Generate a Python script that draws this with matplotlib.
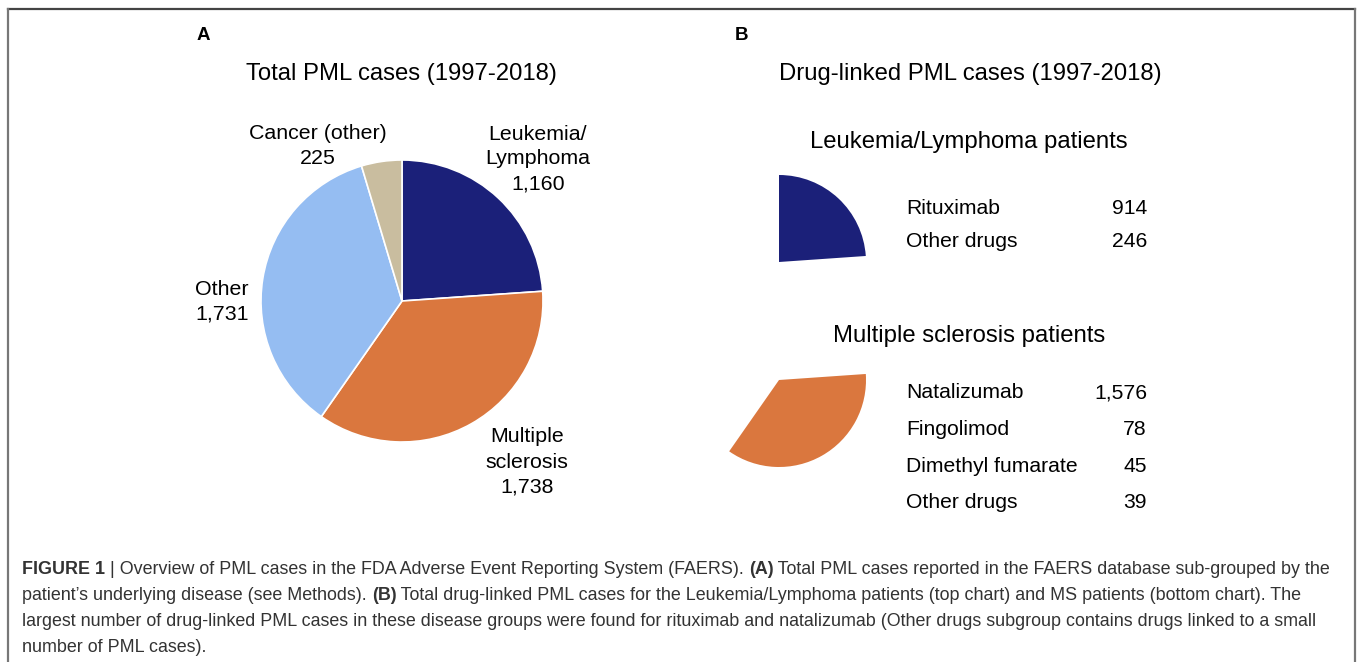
import matplotlib
matplotlib.use("Agg")
import matplotlib.pyplot as plt

# ---- data ----
disease_labels = ["Leukemia/\nLymphoma", "Multiple\nsclerosis", "Other", "Cancer (other)"]
disease_cases = [1160, 1738, 1731, 225]
disease_colors = ["#1b2079", "#da773e", "#95bdf2", "#c9bd9f"]

leuk_drugs = ["Rituximab", "Other drugs"]
leuk_cases = [914, 246]
ms_drugs = ["Natalizumab", "Fingolimod", "Dimethyl fumarate", "Other drugs"]
ms_cases = [1576, 78, 45, 39]

W, H = 1357, 662
plt.rcParams["font.family"] = ["Liberation Sans", "DejaVu Sans"]

fig = plt.figure(figsize=(W / 100, H / 100), dpi=100)
fig.patch.set_facecolor("white")


def px(x, y):
    return x / W, 1 - y / H


def pie_axes(cx, cy, r):
    ax = fig.add_axes([(cx - r) / W, (H - cy - r) / H, 2 * r / W, 2 * r / H])
    return ax


def fmt(n):
    return "{:,}".format(n)


# frame around the figure
fig.add_artist(plt.Line2D([8 / W, 1355 / W], [1 - 8.5 / H, 1 - 8.5 / H],
                          color="#444444", lw=1.6, transform=fig.transFigure))
fig.add_artist(plt.Line2D([8 / W, 8 / W], [0, 1 - 8.5 / H],
                          color="#777777", lw=1.6, transform=fig.transFigure))
fig.add_artist(plt.Line2D([1355 / W, 1355 / W], [0, 1 - 8.5 / H],
                          color="#777777", lw=1.6, transform=fig.transFigure))

# ---- panel A ----
fig.text(*px(203, 36), "A", fontsize=13.5, fontweight="bold", ha="center", va="center")
fig.text(*px(401, 74), "Total PML cases (1997-2018)", fontsize=17.2, ha="center", va="center")

axA = pie_axes(402, 301, 141)
axA.pie(disease_cases, colors=disease_colors, startangle=90, counterclock=False,
        wedgeprops=dict(edgecolor="white", linewidth=1.2))
axA.set_xlim(-1, 1)
axA.set_ylim(-1, 1)
axA.axis("off")

lab_pos = {0: (538, 159), 1: (527, 462), 2: (222, 302), 3: (318, 146)}
for i, (lab, n) in enumerate(zip(disease_labels, disease_cases)):
    x, y = lab_pos[i]
    fig.text(*px(x, y), lab + "\n" + fmt(n), fontsize=15.4, ha="center", va="center",
             linespacing=1.4)

# ---- panel B ----
fig.text(*px(742, 36), "B", fontsize=13.5, fontweight="bold", ha="center", va="center")
fig.text(*px(970, 74), "Drug-linked PML cases (1997-2018)", fontsize=17.2, ha="center", va="center")
fig.text(*px(969, 142), "Leukemia/Lymphoma patients", fontsize=17.2, ha="center", va="center")
fig.text(*px(969, 336), "Multiple sclerosis patients", fontsize=17.2, ha="center", va="center")

for k, cy in enumerate([262, 380]):
    ax = pie_axes(779, cy, 87)
    cols = ["none"] * len(disease_cases)
    cols[k] = disease_colors[k]
    ax.pie(disease_cases, colors=cols, startangle=90, counterclock=False,
           wedgeprops=dict(linewidth=0))
    ax.set_xlim(-1, 1)
    ax.set_ylim(-1, 1)
    ax.axis("off")

for drugs, cases, y0 in [(leuk_drugs, leuk_cases, 208), (ms_drugs, ms_cases, 393)]:
    step = 34 if len(drugs) == 2 else 36.5
    for j, (d, n) in enumerate(zip(drugs, cases)):
        y = y0 + j * step
        fig.text(*px(906, y), d, fontsize=15.2, ha="left", va="center")
        fig.text(*px(1147, y), fmt(n), fontsize=15.2, ha="right", va="center")

# ---- caption ----
cap_lines = [
    [("FIGURE 1", True), (" | Overview of PML cases in the FDA Adverse Event Reporting System (FAERS). ", False),
     ("(A)", True), (" Total PML cases reported in the FAERS database sub-grouped by the", False)],
    [("patient\u2019s underlying disease (see Methods). ", False), ("(B)", True),
     (" Total drug-linked PML cases for the Leukemia/Lymphoma patients (top chart) and MS patients (bottom chart). The", False)],
    [("largest number of drug-linked PML cases in these disease groups were found for rituximab and natalizumab (Other drugs subgroup contains drugs linked to a small", False)],
    [("number of PML cases).", False)],
]
cap_y = [569, 596, 622, 648]
renderer = fig.canvas.get_renderer()
for parts, y in zip(cap_lines, cap_y):
    x = 22 / W
    for s, bold in parts:
        t = fig.text(x, 1 - y / H, s, fontsize=12.9, color="#333333", va="center", ha="left",
                     fontweight="bold" if bold else "normal")
        bb = t.get_window_extent(renderer)
        x += bb.width / W

fig.savefig("out.png", dpi=100, facecolor="white")
